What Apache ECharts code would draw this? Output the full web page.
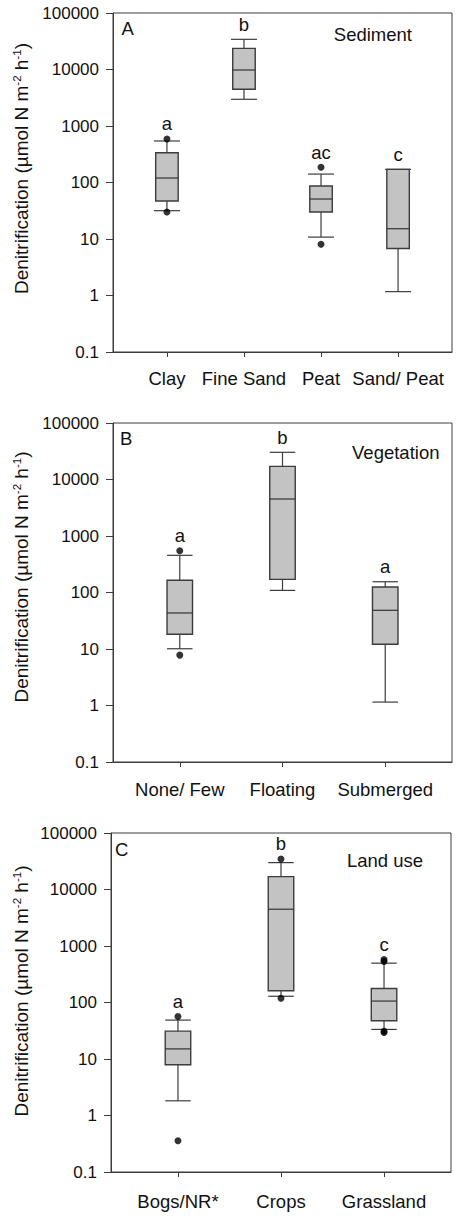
<!DOCTYPE html>
<html>
<head>
<meta charset="utf-8">
<script src="https://cdn.jsdelivr.net/npm/echarts@6/dist/echarts.min.js"></script>
<style>
  html, body { margin: 0; padding: 0; background: #fff; }
  #chart { width: 458px; height: 1216px; }
</style>
</head>
<body>
<div id="chart"></div>
<script>
// Denitrification rates (µmol N m-2 h-1), summarised as box plots per group.

// Panel A: sediment type
const sedimentCats = ['Clay', 'Fine Sand', 'Peat', 'Sand/ Peat'];
const sedimentMin = [31.7, 2970, 10.8, 1.17];
const sedimentQ1 = [47, 4460, 30, 6.8];
const sedimentMedian = [120, 9800, 51, 15.2];
const sedimentQ3 = [337, 23700, 86.7, 171];
const sedimentMax = [543, 34200, 141, 171];
const sedimentOutliers = [[590, 30], [], [186, 8.05], []];
const sedimentLetters = ['a', 'b', 'ac', 'c'];

// Panel B: vegetation
const vegetationCats = ['None/ Few', 'Floating', 'Submerged'];
const vegetationMin = [10.1, 109, 1.15];
const vegetationQ1 = [18.2, 171, 12.1];
const vegetationMedian = [43.4, 4520, 48.4];
const vegetationQ3 = [165, 17100, 125];
const vegetationMax = [455, 30300, 155];
const vegetationOutliers = [[550, 7.8], [], []];
const vegetationLetters = ['a', 'b', 'a'];

// Panel C: land use
const landCats = ['Bogs/NR*', 'Crops', 'Grassland'];
const landMin = [1.82, 129, 33.4];
const landQ1 = [7.9, 161, 47.4];
const landMedian = [15.1, 4480, 106];
const landQ3 = [31.1, 16900, 177];
const landMax = [48.8, 29900, 497];
const landOutliers = [[56.6, 0.358], [34700, 119], [577, 530, 31, 29.5]];
const landLetters = ['a', 'b', 'c'];

// Shared log axis
const yTickLabels = ['0.1', '1', '10', '100', '1000', '10000', '100000'];
const yMinValue = 0.1;
const yMaxValue = 100000;

const FONT = '"Liberation Sans", Arial, sans-serif';
const LINE = '#3c3c3c';
const TEXT = '#111';
const FILL = '#c3c3c3';

const panels = [
  { tag: 'A', title: 'Sediment', cats: sedimentCats, min: sedimentMin, q1: sedimentQ1,
    med: sedimentMedian, q3: sedimentQ3, max: sedimentMax, out: sedimentOutliers, letters: sedimentLetters,
    grid: { left: 113, top: 13, width: 339, height: 339 }, xRange: [0.3, 4.7], boxW: 22.5, capW: 26,
    labelMargin: 17, tagPos: [121.5, 28], titlePos: [412, 34.5], yTitleY: 168.5 },
  { tag: 'B', title: 'Vegetation', cats: vegetationCats, min: vegetationMin, q1: vegetationQ1,
    med: vegetationMedian, q3: vegetationQ3, max: vegetationMax, out: vegetationOutliers, letters: vegetationLetters,
    grid: { left: 113, top: 423, width: 339, height: 339 }, xRange: [0.35, 3.65], boxW: 25.5, capW: 25.5,
    labelMargin: 18, tagPos: [120, 438], titlePos: [439.5, 452.5], yTitleY: 577 },
  { tag: 'C', title: 'Land use', cats: landCats, min: landMin, q1: landQ1,
    med: landMedian, q3: landQ3, max: landMax, out: landOutliers, letters: landLetters,
    grid: { left: 111, top: 833, width: 340, height: 339 }, xRange: [0.35, 3.65], boxW: 25.5, capW: 25.5,
    labelMargin: 20, tagPos: [115, 849], titlePos: [423, 860], yTitleY: 991 }
];

const grids = [], xAxes = [], yAxes = [], series = [], graphics = [];

panels.forEach((p, pi) => {
  grids.push(Object.assign({ show: true, borderColor: LINE, borderWidth: 1, backgroundColor: 'transparent' }, p.grid));

  const positions = p.cats.map((_, i) => i + 1);
  xAxes.push({
    type: 'value', gridIndex: pi, min: p.xRange[0], max: p.xRange[1],
    axisLine: { show: true, lineStyle: { color: LINE, width: 1 } },
    axisTick: { show: true, inside: false, length: 5, customValues: positions, lineStyle: { color: LINE } },
    axisLabel: { show: true, customValues: positions, margin: p.labelMargin, color: TEXT,
      fontFamily: FONT, fontSize: 18.5, formatter: v => p.cats[Math.round(v) - 1] || '' },
    splitLine: { show: false }
  });
  yAxes.push({
    type: 'log', logBase: 10, gridIndex: pi, min: yMinValue, max: yMaxValue, interval: 1,
    axisLine: { show: true, lineStyle: { color: LINE, width: 1 } },
    axisTick: { show: true, inside: false, length: 7, lineStyle: { color: LINE } },
    minorTick: { show: false },
    axisLabel: { margin: 14, color: TEXT, fontFamily: FONT, fontSize: 17,
      formatter: v => yTickLabels[Math.round(Math.log10(v)) + 1] },
    splitLine: { show: false }
  });

  // one row per group: position, min, Q1, median, Q3, max, highest mark
  const boxRows = p.cats.map((_, i) => [
    i + 1, p.min[i], p.q1[i], p.med[i], p.q3[i], p.max[i], Math.max(p.max[i], ...p.out[i])
  ]);

  series.push({
    type: 'custom', xAxisIndex: pi, yAxisIndex: pi, data: boxRows, clip: false,
    encode: { x: 0, y: [1, 2, 3, 4, 5] },
    renderItem: (params, api) => {
      const x = api.value(0);
      const pt = k => api.coord([x, api.value(k)]);
      const cx = pt(1)[0];
      const yMin = pt(1)[1], yQ1 = pt(2)[1], yMed = pt(3)[1], yQ3 = pt(4)[1], yMax = pt(5)[1];
      const yTop = pt(6)[1];
      const hb = p.boxW / 2, hc = p.capW / 2;
      const ls = { stroke: LINE, lineWidth: 1.2 };
      return {
        type: 'group',
        children: [
          { type: 'line', shape: { x1: cx, y1: yMin, x2: cx, y2: yQ1 }, style: ls },
          { type: 'line', shape: { x1: cx, y1: yQ3, x2: cx, y2: yMax }, style: ls },
          { type: 'line', shape: { x1: cx - hc, y1: yMin, x2: cx + hc, y2: yMin }, style: ls },
          { type: 'line', shape: { x1: cx - hc, y1: yMax, x2: cx + hc, y2: yMax }, style: ls },
          { type: 'rect', shape: { x: cx - hb, y: yQ3, width: p.boxW, height: yQ1 - yQ3 },
            style: { fill: FILL, stroke: LINE, lineWidth: 1.4 } },
          { type: 'line', shape: { x1: cx - hb, y1: yMed, x2: cx + hb, y2: yMed }, style: { stroke: '#333', lineWidth: 1.2 } },
          { type: 'text', x: cx, y: yTop - 15,
            style: { text: p.letters[params.dataIndex], fill: TEXT, font: '18.5px ' + FONT,
              textAlign: 'center', textVerticalAlign: 'middle' } }
        ]
      };
    }
  });

  const outlierPoints = [];
  p.out.forEach((vals, i) => vals.forEach(v => outlierPoints.push([i + 1, v])));
  series.push({
    type: 'scatter', xAxisIndex: pi, yAxisIndex: pi, data: outlierPoints,
    symbol: 'circle', symbolSize: 7, itemStyle: { color: '#000' }, z: 5
  });

  graphics.push(
    { type: 'text', x: p.tagPos[0], y: p.tagPos[1],
      style: { text: p.tag, fill: TEXT, font: '18.5px ' + FONT, textAlign: 'left', textVerticalAlign: 'middle' } },
    { type: 'text', x: p.titlePos[0], y: p.titlePos[1],
      style: { text: p.title, fill: TEXT, font: '18.5px ' + FONT, textAlign: 'right', textVerticalAlign: 'middle' } },
    { type: 'text', x: 21.5, y: p.yTitleY, rotation: Math.PI / 2,
      style: {
        text: 'Denitrification (µmol N m{sup|-2} h{sup|-1})',
        fill: TEXT, font: '19px ' + FONT, textAlign: 'center', textVerticalAlign: 'middle',
        rich: { sup: { fontSize: 11.5, fontFamily: FONT, fill: TEXT, verticalAlign: 'top', lineHeight: 22 } }
      } }
  );
});

const chart = echarts.init(document.getElementById('chart'), null, { renderer: 'svg' });
chart.setOption({
  animation: false,
  backgroundColor: '#fff',
  grid: grids,
  xAxis: xAxes,
  yAxis: yAxes,
  series: series,
  graphic: graphics
});
</script>
</body>
</html>
